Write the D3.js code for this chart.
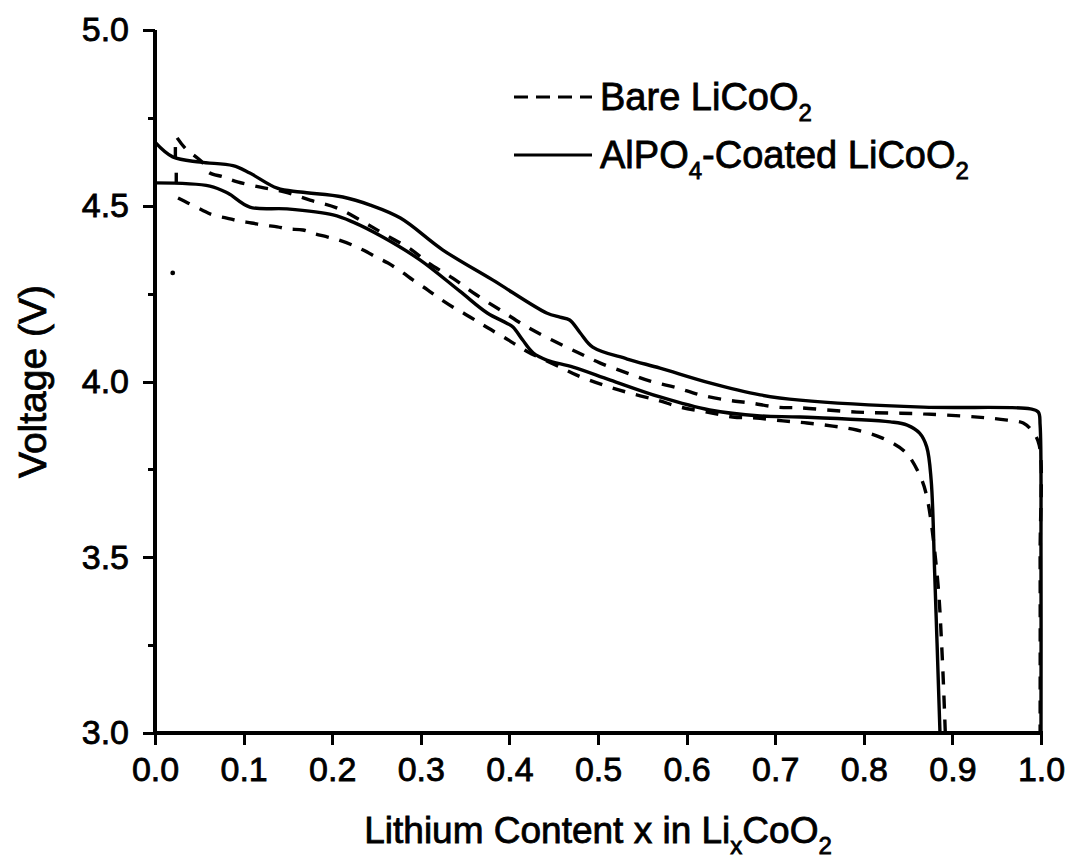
<!DOCTYPE html>
<html>
<head>
<meta charset="utf-8">
<script src="https://cdn.jsdelivr.net/npm/d3@7/dist/d3.min.js"></script>
<style>
  html, body { margin: 0; padding: 0; background: #ffffff; }
  svg { display: block; }
  text { font-family: "Liberation Sans", Arial, sans-serif; fill: #000; stroke: #000; stroke-width: 0.8px; }
  .axis path.domain, .axis .tick line { stroke: #000; shape-rendering: crispEdges; }
</style>
</head>
<body>
<svg id="chart" width="1068" height="858"></svg>
<script>
// Lithium content x in LixCoO2 vs. voltage (V) for the first charge/discharge cycle

// Bare LiCoO2, charge (upper dashed curve)
const bareCharge = [
  [0.025, 4.693], [0.034, 4.664], [0.054, 4.622], [0.060, 4.596], [0.077, 4.582],
  [0.093, 4.568], [0.119, 4.553], [0.147, 4.539], [0.175, 4.516], [0.205, 4.494],
  [0.235, 4.454], [0.257, 4.422], [0.290, 4.374], [0.307, 4.340], [0.336, 4.294],
  [0.363, 4.246], [0.393, 4.198], [0.420, 4.155], [0.448, 4.118], [0.476, 4.084],
  [0.502, 4.053], [0.533, 4.024], [0.559, 4.001], [0.589, 3.982], [0.615, 3.962],
  [0.646, 3.947], [0.672, 3.939], [0.702, 3.927], [0.728, 3.925], [0.792, 3.913],
  [0.867, 3.908], [0.942, 3.896], [0.962, 3.890], [0.980, 3.882], [0.991, 3.856],
  [0.998, 3.819], [0.999, 3.500], [0.999, 3.000]
];

// Bare LiCoO2, discharge (lower dashed curve)
const bareDischarge = [
  [0.026, 4.522], [0.037, 4.508], [0.053, 4.488], [0.065, 4.474], [0.081, 4.465],
  [0.094, 4.457], [0.109, 4.451], [0.122, 4.445], [0.138, 4.440], [0.150, 4.434],
  [0.167, 4.431], [0.178, 4.422], [0.195, 4.411], [0.207, 4.403], [0.223, 4.388],
  [0.235, 4.374], [0.252, 4.351], [0.263, 4.337], [0.280, 4.309], [0.291, 4.289],
  [0.308, 4.260], [0.319, 4.240], [0.336, 4.212], [0.348, 4.195], [0.365, 4.169],
  [0.376, 4.152], [0.393, 4.127], [0.404, 4.110], [0.421, 4.084], [0.457, 4.041],
  [0.476, 4.018], [0.506, 3.990], [0.536, 3.967], [0.567, 3.947], [0.593, 3.927],
  [0.623, 3.913], [0.652, 3.899], [0.679, 3.896], [0.709, 3.888], [0.736, 3.882],
  [0.765, 3.873], [0.792, 3.862], [0.821, 3.839], [0.847, 3.799], [0.863, 3.734],
  [0.871, 3.674], [0.883, 3.444], [0.888, 3.245], [0.892, 3.000]
];

// AlPO4-coated LiCoO2, charge (upper solid curve)
const coatedCharge = [
  [0.000, 4.681], [0.020, 4.639], [0.051, 4.624], [0.088, 4.614], [0.107, 4.593],
  [0.138, 4.550], [0.164, 4.539], [0.212, 4.525], [0.243, 4.502], [0.277, 4.465],
  [0.325, 4.374], [0.381, 4.289], [0.442, 4.195], [0.457, 4.183], [0.468, 4.175],
  [0.480, 4.138], [0.494, 4.098], [0.533, 4.064], [0.570, 4.038], [0.626, 3.996],
  [0.683, 3.962], [0.728, 3.947], [0.867, 3.927], [0.988, 3.922], [0.997, 3.913],
  [0.999, 3.876], [1.000, 3.500], [1.000, 3.000]
];

// AlPO4-coated LiCoO2, discharge (lower solid curve)
const coatedDischarge = [
  [0.000, 4.565], [0.062, 4.556], [0.082, 4.536], [0.107, 4.496], [0.149, 4.491],
  [0.201, 4.474], [0.223, 4.454], [0.257, 4.411], [0.299, 4.346], [0.344, 4.257],
  [0.375, 4.195], [0.397, 4.166], [0.404, 4.155], [0.415, 4.118], [0.427, 4.081],
  [0.442, 4.061], [0.472, 4.041], [0.514, 4.004], [0.570, 3.956], [0.626, 3.919],
  [0.683, 3.902], [0.728, 3.899], [0.830, 3.885], [0.849, 3.876], [0.863, 3.853],
  [0.871, 3.814], [0.876, 3.720], [0.880, 3.455], [0.886, 3.000]
];

// Short rest-step segments at the start of the cycle
const coatedChargeStep = [[0.023, 4.667], [0.023, 4.636]];
const coatedDischargeStep = [[0.024, 4.594], [0.024, 4.565]];
// Isolated first reading of the bare cell
const bareFirstPoint = [[0.020, 4.309]];

// Axis ticks
const xTicks = [0.0, 0.1, 0.2, 0.3, 0.4, 0.5, 0.6, 0.7, 0.8, 0.9, 1.0];
const yTicks = [3.0, 3.5, 4.0, 4.5, 5.0];
const yMinorTicks = [3.25, 3.75, 4.25, 4.75];

// Legend entries
const legendItems = [
  { name: "Bare LiCoO", sub: "2", pre: null, dashed: true },
  { name: "-Coated LiCoO", sub: "2", pre: ["AlPO", "4"], dashed: false }
];

const svg = d3.select("#chart");
const W = 1068, H = 858;
const margin = { left: 155, right: 27, top: 30, bottom: 125 };

svg.append("rect").attr("width", W).attr("height", H).attr("fill", "#fff");

const x = d3.scaleLinear().domain([0, 1]).range([margin.left, W - margin.right]);
const y = d3.scaleLinear().domain([3, 5]).range([H - margin.bottom, margin.top]);

const DASH = "13,11";

const line = d3.line()
  .x(d => x(d[0]))
  .y(d => y(d[1]))
  .curve(d3.curveCatmullRom.alpha(0.5));
const straight = d3.line().x(d => x(d[0])).y(d => y(d[1]));

const curves = svg.append("g")
  .style("fill", "none").style("stroke", "#000")
  .style("stroke-width", "3.4px").style("stroke-linejoin", "round");

curves.append("path").attr("d", line(coatedCharge));
curves.append("path").attr("d", line(coatedDischarge));
curves.append("path").attr("d", line(bareCharge)).style("stroke-dasharray", DASH);
curves.append("path").attr("d", line(bareDischarge)).style("stroke-dasharray", DASH);
curves.append("path").attr("d", straight(coatedChargeStep));
curves.append("path").attr("d", straight(coatedDischargeStep));

svg.selectAll("circle.first").data(bareFirstPoint).enter().append("circle")
  .attr("class", "first")
  .attr("cx", d => x(d[0])).attr("cy", d => y(d[1])).attr("r", 2.4).style("fill", "#000");

// Axes
const xAxis = svg.append("g").attr("class", "axis")
  .attr("transform", `translate(0,${y(3)})`)
  .call(d3.axisBottom(x).tickValues(xTicks).tickSize(12).tickPadding(12)
    .tickFormat(d3.format(".1f")));
const yAxis = svg.append("g").attr("class", "axis")
  .attr("transform", `translate(${x(0)},0)`)
  .call(d3.axisLeft(y).tickValues(yTicks).tickSize(12).tickPadding(14)
    .tickFormat(d3.format(".1f")));
const yMinor = svg.append("g").attr("class", "axis")
  .attr("transform", `translate(${x(0)},0)`)
  .call(d3.axisLeft(y).tickValues(yMinorTicks).tickSize(7).tickFormat(""));

[xAxis, yAxis, yMinor].forEach(g => {
  g.select(".domain").attr("stroke-width", 4).style("stroke-width", "4px");
  g.selectAll(".tick line").attr("stroke-width", 3).style("stroke-width", "3px");
  g.selectAll(".tick text").style("font-size", "34px")
    .style("font-family", "'Liberation Sans', Arial, sans-serif");
});
xAxis.select(".domain").attr("d", `M${x(0) - 2},0H${x(1) + 1.5}`);
yAxis.select(".domain").attr("d", `M0,${y(3) + 2}V${y(5)}`);
yMinor.select(".domain").remove();

// Axis titles
svg.append("text")
  .attr("transform", `translate(46,${(y(3) + y(5)) / 2}) rotate(-90)`)
  .attr("text-anchor", "middle").style("font-size", "39px")
  .text("Voltage (V)");

const xt = svg.append("text")
  .attr("x", (x(0) + x(1)) / 2).attr("y", 843)
  .attr("text-anchor", "middle").style("font-size", "37px");
xt.append("tspan").text("Lithium Content x in Li");
xt.append("tspan").style("font-size", "24px").attr("dy", 11).text("x");
xt.append("tspan").attr("dy", -11).text("CoO");
xt.append("tspan").style("font-size", "24px").attr("dy", 11).text("2");

// Legend
const legend = svg.append("g");
legendItems.forEach((item, i) => {
  const ly = 97 + i * 58;
  legend.append("line")
    .attr("x1", 514).attr("x2", 592).attr("y1", ly).attr("y2", ly)
    .style("stroke", "#000").style("stroke-width", "3px")
    .style("stroke-dasharray", item.dashed ? "14,8" : null);
  const t = legend.append("text").attr("x", 600).attr("y", ly + 13).style("font-size", "38px");
  if (item.pre) {
    t.append("tspan").text(item.pre[0]);
    t.append("tspan").style("font-size", "24px").attr("dy", 11).text(item.pre[1]);
    t.append("tspan").attr("dy", -11).text(item.name);
  } else {
    t.append("tspan").text(item.name);
  }
  t.append("tspan").style("font-size", "24px").attr("dy", 11).text(item.sub);
});
</script>
</body>
</html>
